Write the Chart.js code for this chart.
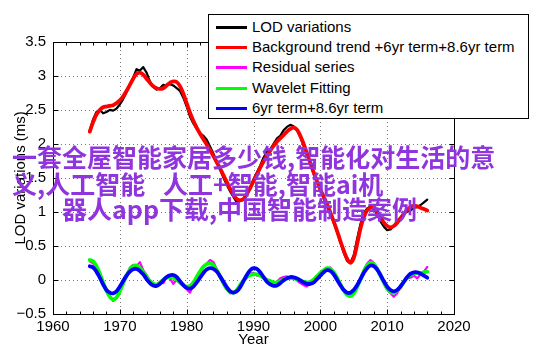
<!DOCTYPE html>
<html>
<head>
<meta charset="utf-8">
<script src="https://cdn.jsdelivr.net/npm/chart.js@4/dist/chart.umd.min.js"></script>
<style>
  html, body { margin: 0; padding: 0; background: #fff; }
  #wrap { position: relative; width: 542px; height: 356px; overflow: hidden; }
  #c { position: absolute; left: 0; top: 0; }
  #legend { position: absolute; left: 208px; top: 14px; width: 319px; height: 103px; border: 1px solid #000; background: #fff;
    font-family: "Liberation Sans", Arial, sans-serif; font-size: 15px; color: #000; }
  .row { position: absolute; left: 0; height: 20px; line-height: 20px; white-space: nowrap; }
  .swatch { position: absolute; left: 7px; top: 9px; width: 31px; height: 3px; }
  .lab { position: absolute; left: 43px; top: 0; }
  .wm { position: absolute; white-space: pre; font-family: "Noto Sans CJK SC", sans-serif; font-weight: bold;
    font-size: 25px; line-height: 26px; color: #9035DD; }
</style>
</head>
<body>
<div id="wrap">
  <canvas id="c" width="542" height="356"></canvas>
  <div id="legend"></div>
  <div class="wm" style="left:12px; top:143px;">一套全屋智能家居多少钱,智能化对生活的意</div>
  <div class="wm" style="left:12px; top:170px;">义,人工智能</div>
  <div class="wm" style="left:163px; top:170px;">人工+智能,智能ai机</div>
  <div class="wm" style="left:62px; top:195px;">器人app下载,中国智能制造案例</div>
</div>
<script>
// ---- data ----
const years = [1965.5,1966,1966.5,1967,1967.5,1968,1968.5,1969,1969.5,1970,1970.5,1971,1971.5,1972,1972.5,1973,1973.5,1974,1974.5,1975,1975.5,1976,1976.5,1977,1977.5,1978,1978.5,1979,1979.5,1980,1980.5,1981,1981.5,1982,1982.5,1983,1983.5,1984,1984.5,1985,1985.5,1986,1986.5,1987,1987.5,1988,1988.5,1989,1989.5,1990,1990.5,1991,1991.5,1992,1992.5,1993,1993.5,1994,1994.5,1995,1995.5,1996,1996.5,1997,1997.5,1998,1998.5,1999,1999.5,2000,2000.5,2001,2001.5,2002,2002.5,2003,2003.5,2004,2004.5,2005,2005.5,2006,2006.5,2007,2007.5,2008,2008.5,2009,2009.5,2010,2010.5,2011,2011.5,2012,2012.5,2013,2013.5,2014,2014.5,2015,2015.5,2016];

const lodVariations = [2.20,2.36,2.47,2.50,2.45,2.47,2.50,2.49,2.52,2.58,2.66,2.76,2.86,2.98,3.10,3.08,3.13,3.05,2.92,2.84,2.80,2.82,2.87,2.86,2.88,2.86,2.82,2.78,2.68,2.55,2.40,2.30,2.22,2.16,2.12,2.06,1.96,1.86,1.74,1.62,1.50,1.40,1.30,1.22,1.14,1.16,1.18,1.25,1.36,1.48,1.58,1.68,1.80,1.88,1.92,2.00,2.08,2.12,2.20,2.25,2.28,2.26,2.20,2.10,1.97,1.84,1.70,1.56,1.44,1.32,1.20,1.08,0.96,0.84,0.70,0.55,0.40,0.28,0.25,0.36,0.60,0.82,0.98,1.05,1.08,1.04,0.96,0.86,0.78,0.73,0.74,0.80,0.86,0.92,0.98,1.00,1.02,1.06,1.07,1.10,1.14,1.18];

const backgroundTrend = [2.18,2.32,2.43,2.50,2.54,2.55,2.56,2.57,2.60,2.64,2.70,2.78,2.87,2.96,3.03,3.05,3.02,2.96,2.90,2.85,2.82,2.81,2.82,2.86,2.90,2.92,2.91,2.85,2.74,2.60,2.46,2.34,2.24,2.15,2.07,1.99,1.91,1.82,1.73,1.64,1.54,1.44,1.34,1.25,1.19,1.17,1.19,1.26,1.35,1.45,1.55,1.65,1.74,1.82,1.90,1.97,2.03,2.08,2.13,2.18,2.22,2.24,2.21,2.12,2.00,1.86,1.72,1.58,1.45,1.33,1.22,1.11,0.99,0.86,0.72,0.57,0.43,0.31,0.25,0.32,0.52,0.75,0.92,1.02,1.06,1.05,1.00,0.92,0.84,0.79,0.77,0.79,0.84,0.90,0.97,1.03,1.07,1.09,1.08,1.06,1.04,1.02];

const residualSeries = [0.27,0.24,0.18,0.10,-0.06,-0.18,-0.24,-0.31,-0.27,-0.15,-0.06,0.04,0.18,0.22,0.20,0.26,0.14,0.07,-0.01,-0.05,-0.09,-0.03,-0.05,0.04,0.02,-0.06,0.00,-0.03,-0.09,-0.14,-0.19,-0.08,0.02,0.10,0.18,0.24,0.29,0.26,0.16,0.05,-0.06,-0.14,-0.20,-0.18,-0.15,-0.08,0.00,0.03,0.09,0.10,0.06,0.07,0.02,0.01,-0.04,-0.06,-0.03,0.02,0.04,0.05,0.02,0.04,-0.01,-0.05,-0.08,-0.10,-0.04,-0.01,0.06,0.08,0.14,0.15,0.18,0.10,0.04,-0.08,-0.14,-0.20,-0.22,-0.18,-0.10,0.03,0.14,0.24,0.29,0.25,0.14,0.05,-0.06,-0.14,-0.20,-0.25,-0.20,-0.08,-0.04,0.02,0.03,0.06,0.02,0.08,0.12,0.19];

const waveletFitting = [0.29,0.27,0.20,0.09,-0.04,-0.16,-0.25,-0.29,-0.26,-0.17,-0.05,0.06,0.15,0.20,0.21,0.17,0.11,0.04,-0.02,-0.06,-0.07,-0.04,0.00,0.03,0.04,0.03,0.00,-0.04,-0.08,-0.10,-0.09,-0.04,0.04,0.12,0.19,0.23,0.24,0.21,0.14,0.05,-0.05,-0.13,-0.18,-0.19,-0.15,-0.08,-0.01,0.04,0.07,0.08,0.08,0.06,0.03,0.00,-0.02,-0.04,-0.04,-0.02,0.00,0.02,0.03,0.02,0.01,-0.01,-0.03,-0.04,-0.03,0.00,0.05,0.10,0.14,0.17,0.16,0.11,0.03,-0.07,-0.16,-0.22,-0.24,-0.20,-0.11,0.00,0.12,0.21,0.25,0.23,0.16,0.06,-0.04,-0.13,-0.18,-0.19,-0.16,-0.10,-0.03,0.03,0.07,0.09,0.10,0.10,0.11,0.12];

const term6yr86yr = [0.20,0.18,0.12,0.03,-0.07,-0.15,-0.19,-0.20,-0.17,-0.10,-0.02,0.06,0.12,0.155,0.16,0.13,0.08,0.01,-0.05,-0.085,-0.09,-0.06,-0.01,0.04,0.065,0.07,0.04,-0.02,-0.08,-0.12,-0.13,-0.10,-0.04,0.03,0.10,0.15,0.17,0.16,0.12,0.05,-0.03,-0.11,-0.17,-0.19,-0.17,-0.11,-0.02,0.07,0.14,0.17,0.16,0.11,0.04,-0.03,-0.07,-0.09,-0.085,-0.05,-0.01,0.02,0.04,0.035,0.02,-0.01,-0.04,-0.06,-0.06,-0.04,0.01,0.06,0.11,0.14,0.13,0.08,0.00,-0.08,-0.15,-0.19,-0.19,-0.15,-0.08,0.01,0.10,0.17,0.21,0.20,0.15,0.07,-0.02,-0.10,-0.15,-0.17,-0.15,-0.10,-0.03,0.04,0.09,0.11,0.11,0.09,0.06,0.03];

const seriesNames = ["LOD variations","Background trend +6yr term+8.6yr term","Residual series","Wavelet Fitting","6yr term+8.6yr term"];
const seriesColors = ["#000000","#FF0000","#FF00FF","#00FF00","#0000FF"];
const xTickValues = [1960,1970,1980,1990,2000,2010,2020];
const yTickValues = [-0.5,0,0.5,1,1.5,2,2.5,3,3.5];

// ---- helpers ----
const pts = arr => arr.map((v, i) => ({x: years[i], y: v}));
const FONT = '"Liberation Sans", Arial, sans-serif';

// legend (HTML)
const leg = document.getElementById('legend');
const rowTops = [2, 22, 42, 63, 83];
seriesNames.forEach((n, i) => {
  const r = document.createElement('div');
  r.className = 'row';
  r.style.top = rowTops[i] + 'px';
  r.innerHTML = '<div class="swatch" style="background:' + seriesColors[i] + '"></div><span class="lab"></span>';
  r.querySelector('.lab').textContent = n;
  leg.appendChild(r);
});

// frame, dotted grid and inward ticks
const framePlugin = {
  id: 'framePlugin',
  beforeDatasetsDraw(chart) {
    const {ctx, chartArea: a, scales: {x, y}} = chart;
    ctx.save();
    ctx.strokeStyle = '#7a7a7a';
    ctx.lineWidth = 1;
    ctx.setLineDash([1, 3]);
    xTickValues.forEach(v => {
      const px = Math.round(x.getPixelForValue(v)) + 0.5;
      if (px <= a.left + 1 || px >= a.right - 1) return;
      ctx.beginPath(); ctx.moveTo(px, a.top); ctx.lineTo(px, a.bottom); ctx.stroke();
    });
    yTickValues.forEach(v => {
      const py = Math.round(y.getPixelForValue(v)) + 0.5;
      if (py <= a.top + 1 || py >= a.bottom - 1) return;
      ctx.beginPath(); ctx.moveTo(a.left, py); ctx.lineTo(a.right, py); ctx.stroke();
    });
    ctx.restore();
  },
  afterDatasetsDraw(chart) {
    const {ctx, chartArea: a, scales: {x, y}} = chart;
    ctx.save();
    ctx.strokeStyle = '#000';
    ctx.lineWidth = 1;
    ctx.setLineDash([]);
    const L = Math.round(a.left) + 0.5, R = Math.round(a.right) + 0.5, T = Math.round(a.top) + 0.5, B = Math.round(a.bottom) + 0.5;
    ctx.strokeRect(L, T, R - L, B - T);
    ctx.beginPath();
    for (let v = 1960; v <= 2020; v += 2) {
      const px = Math.round(x.getPixelForValue(v)) + 0.5;
      const len = (v % 10 === 0) ? 5 : 3;
      ctx.moveTo(px, B); ctx.lineTo(px, B - len);
      ctx.moveTo(px, T); ctx.lineTo(px, T + len);
    }
    yTickValues.forEach(v => {
      const py = Math.round(y.getPixelForValue(v)) + 0.5;
      ctx.moveTo(L, py); ctx.lineTo(L + 5, py);
      ctx.moveTo(R, py); ctx.lineTo(R - 5, py);
    });
    ctx.stroke();
    ctx.restore();
  }
};

const ds = (data, i, w, tension, order) => ({
  label: seriesNames[i], data: pts(data), borderColor: seriesColors[i], backgroundColor: seriesColors[i],
  borderWidth: w, pointRadius: 0, tension: tension, fill: false, order: order,
  borderJoinStyle: 'round', borderCapStyle: 'round'
});

new Chart(document.getElementById('c'), {
  type: 'line',
  data: {
    datasets: [
      ds(lodVariations, 0, 2.2, 0, 5),
      ds(backgroundTrend, 1, 3.8, 0.4, 4),
      ds(residualSeries, 2, 2.2, 0, 3),
      ds(waveletFitting, 3, 3.8, 0.4, 2),
      ds(term6yr86yr, 4, 3.8, 0.4, 1)
    ]
  },
  options: {
    responsive: false,
    animation: false,
    events: [],
    layout: { padding: { top: 42, right: 88, left: 0, bottom: 0 } },
    plugins: { legend: { display: false }, tooltip: { enabled: false } },
    scales: {
      x: {
        type: 'linear', min: 1960, max: 2020,
        afterBuildTicks: s => { s.ticks = xTickValues.map(v => ({value: v})); },
        afterFit: s => { s.height = 42.3; },
        grid: { display: false, drawTicks: false },
        border: { display: false },
        ticks: { color: '#000', padding: 4, maxRotation: 0, autoSkip: false, font: { family: FONT, size: 15 },
          callback: v => String(v) },
        title: { display: true, text: 'Year', color: '#000', font: { family: FONT, size: 15 }, padding: { top: 0, bottom: 7 } }
      },
      y: {
        type: 'linear', min: -0.5, max: 3.5,
        afterBuildTicks: s => { s.ticks = yTickValues.map(v => ({value: v})); },
        afterFit: s => { s.width = 53; },
        grid: { display: false, drawTicks: false },
        border: { display: false },
        ticks: { color: '#000', padding: 7, autoSkip: false, font: { family: FONT, size: 15 },
          callback: v => String(v).replace('-', '\u2212') },
        title: { display: true, text: 'LOD variations (ms)', color: '#000', font: { family: FONT, size: 15 }, padding: { top: 12, bottom: 0 } }
      }
    }
  },
  plugins: [framePlugin]
});
</script>
</body>
</html>
